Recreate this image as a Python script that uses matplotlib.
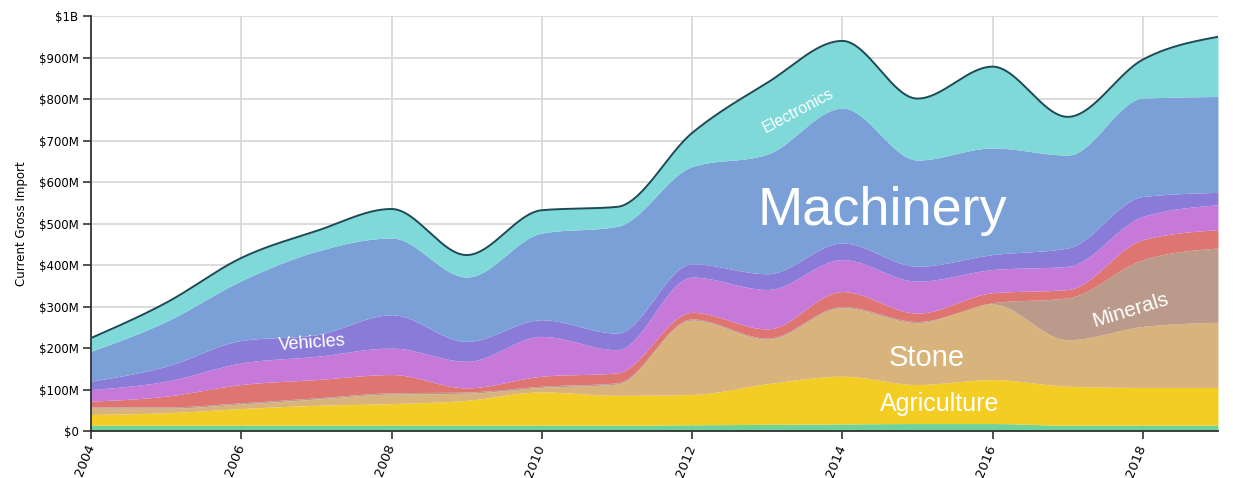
import numpy as np
import matplotlib
matplotlib.use("Agg")
import matplotlib.pyplot as plt
from matplotlib.ticker import FuncFormatter

# yearly values, $M, bottom layer first
years = np.arange(2004, 2020)
animal = [14, 14, 14, 14, 14, 14, 14, 14, 15, 16, 17, 18, 18, 14, 14, 14]
agriculture = [26, 30, 40, 48, 52, 60, 80, 72, 73, 98, 115, 94, 106, 94, 91, 91]
stone = [15, 11, 11, 15, 23, 17, 11, 27, 179, 107, 165, 149, 182, 112, 147, 157]
minerals = [3, 3, 3, 3, 3, 3, 3, 3, 3, 3, 3, 3, 3, 101, 161, 179]
metals = [14, 26, 44, 44, 44, 10, 24, 24, 16, 22, 36, 20, 24, 20, 48, 44]
chemicals = [28, 36, 52, 56, 64, 64, 96, 56, 85, 95, 77, 77, 56, 56, 56, 60]
vehicles = [20, 36, 54, 52, 80, 48, 40, 40, 32, 38, 40, 36, 36, 44, 48, 30]
machinery = [72, 108, 144, 201, 185, 155, 209, 257, 234, 288, 325, 256, 257, 224, 237, 231]
electronics = [32, 45, 55, 49, 70, 53, 55, 47, 81, 172, 162, 148, 196, 92, 93, 144]

layers = [animal, agriculture, stone, minerals, metals, chemicals,
          vehicles, machinery, electronics]
colors = ["#6dd39b", "#f4cd24", "#d9b37c", "#b99a8b", "#de7570",
          "#c679d9", "#8b7bd8", "#7aa0d7", "#7fd9d9"]

# area labels: text, x, y, size, rotation
labels = [
    ("Machinery", 2014.53, 530, 39, 0),
    ("Electronics", 2013.41, 772, 11.5, 28),
    ("Vehicles", 2006.94, 212, 13, 4),
    ("Minerals", 2017.83, 290, 15, 17),
    ("Stone", 2015.13, 175, 21, 0),
    ("Agriculture", 2015.30, 65, 18, 0),
]


def monotone_x(x, y, xs):
    """monotone cubic (d3 curveMonotoneX style)"""
    x = np.asarray(x, float); y = np.asarray(y, float)
    h = np.diff(x)
    s = np.diff(y) / h
    n = len(x)
    t = np.zeros(n)
    for i in range(1, n - 1):
        s0, s1 = s[i - 1], s[i]
        p = (s0 * h[i] + s1 * h[i - 1]) / (h[i - 1] + h[i])
        t[i] = (np.sign(s0) + np.sign(s1)) * min(abs(s0), abs(s1), 0.5 * abs(p))
    t[0] = (3 * s[0] - t[1]) / 2
    t[-1] = (3 * s[-1] - t[-2]) / 2
    idx = np.clip(np.searchsorted(x, xs, side="right") - 1, 0, n - 2)
    dx = h[idx]
    u = (xs - x[idx]) / dx
    h00 = 2 * u**3 - 3 * u**2 + 1
    h10 = u**3 - 2 * u**2 + u
    h01 = -2 * u**3 + 3 * u**2
    h11 = u**3 - u**2
    return h00 * y[idx] + h10 * dx * t[idx] + h01 * y[idx + 1] + h11 * dx * t[idx + 1]


plt.rcParams["font.family"] = ["DejaVu Sans"]
fig = plt.figure(figsize=(12.33, 4.78), dpi=100)
ax = fig.add_axes([0.0738, 0.0983, 0.9140, 0.8682])

xs = np.linspace(years[0], years[-1], 1500)
cum = np.cumsum(np.array(layers, float), axis=0)
lower = np.zeros_like(xs)
for k, c in enumerate(colors):
    upper = monotone_x(years, cum[k], xs)
    ax.fill_between(xs, lower, upper, color=c, lw=0, zorder=2)
    lower = upper
ax.plot(xs, lower, color="#1d4a55", lw=1.4, zorder=3)

for txt, x, y, fs, rot in labels:
    ax.text(x, y, txt, color="white", fontsize=fs, rotation=rot,
            ha="center", va="center", family=["Liberation Sans", "DejaVu Sans"],
            zorder=4)

ax.set_xlim(2004, 2019)
ax.set_ylim(0, 1000)
ax.set_yticks(np.arange(0, 1001, 100))
ax.yaxis.set_major_formatter(FuncFormatter(
    lambda v, p: "$0" if v == 0 else ("$1B" if v >= 1000 else f"${int(v)}M")))
ax.set_xticks(np.arange(2004, 2019, 2))
ax.set_xticklabels([str(y) for y in range(2004, 2019, 2)], rotation=68,
                   ha="right", va="center", rotation_mode="anchor")
ax.tick_params(axis="y", labelsize=8.5, length=6, width=1.2, color="#333333", pad=3)
ax.tick_params(axis="x", labelsize=9.5, length=6, width=1.2, color="#333333", pad=4)
ax.grid(True, color="#d6d6d6", lw=1.2)
ax.set_axisbelow(True)
for side in ["top", "right"]:
    ax.spines[side].set_visible(False)
ax.spines["left"].set_color("#333333")
ax.spines["left"].set_linewidth(1.3)
ax.spines["bottom"].set_color("#333333")
ax.spines["bottom"].set_linewidth(1.3)
ax.set_ylabel("Current Gross Import", fontsize=8.5, labelpad=8)

fig.savefig("out.png", dpi=100)
